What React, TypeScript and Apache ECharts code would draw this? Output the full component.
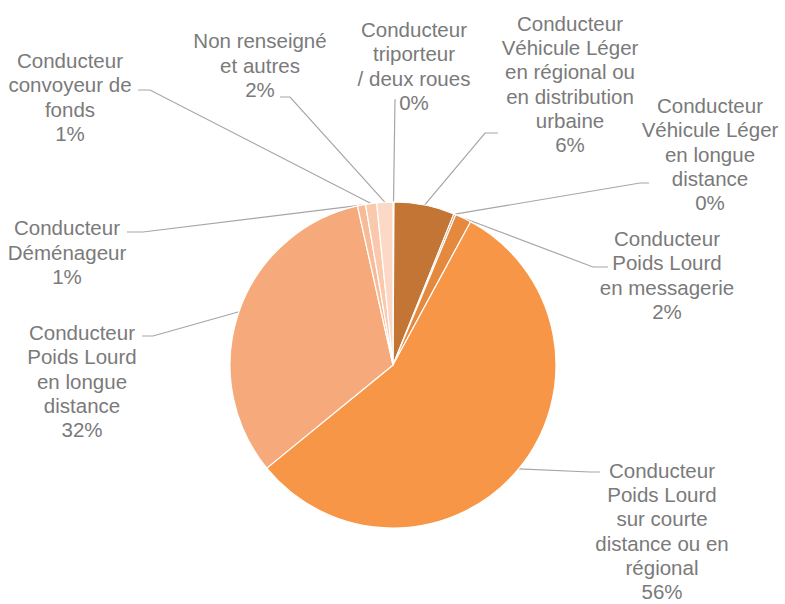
import React, { useEffect, useRef } from "react";
import * as echarts from "echarts";

// Category labels (as wrapped in the reference)
const categories: string[] = [
  "Conducteur\ntriporteur\n/ deux roues",
  "Conducteur\nVéhicule Léger\nen régional ou\nen distribution\nurbaine",
  "Conducteur\nVéhicule Léger\nen longue\ndistance",
  "Conducteur\nPoids Lourd\nen messagerie",
  "Conducteur\nPoids Lourd\nsur courte\ndistance ou en\nrégional",
  "Conducteur\nPoids Lourd\nen longue\ndistance",
  "Conducteur\nDéménageur",
  "Conducteur\nconvoyeur de\nfonds",
  "Non renseigné\net autres",
];

// Shares in percent
const shares: number[] = [0.1, 6.0, 0.2, 1.6, 56.2, 32.4, 0.8, 1.1, 1.6];

// Slice colours
const colors: string[] = [
  "#B8692D",
  "#C27535",
  "#D27D37",
  "#E5893E",
  "#F79646",
  "#F6A97A",
  "#F8BB97",
  "#FAC8AD",
  "#FCD8C6",
];

// Label block centres (layout)
const labelCenters: [number, number][] = [
  [414, 66],
  [570, 84],
  [710, 154],
  [667, 275],
  [662, 531],
  [82, 381],
  [67, 252],
  [70, 97],
  [260, 65],
];

// Leader line elbow / end points (layout)
const leaderPoints: [number, number][][] = [
  [[395, 100], [396, 100]],
  [[485, 133], [498, 133]],
  [[640, 183], [649, 183]],
  [[593, 267], [608, 267]],
  [[590, 472], [600, 472]],
  [[153, 336], [142, 336]],
  [[143, 232], [127, 232]],
  [[150, 90], [138, 90]],
  [[290, 97], [280, 97]],
];

export default function App() {
  const ref = useRef<HTMLDivElement>(null);

  useEffect(() => {
    document.body.style.margin = "0";
    if (!ref.current) return;
    const chart = echarts.init(ref.current, null, { renderer: "svg" });
    const cx = 393;
    const cy = 365;
    const r = 163;
    chart.setOption({
      animation: false,
      backgroundColor: "#ffffff",
      series: [
        {
          type: "pie",
          center: [cx, cy],
          radius: r,
          startAngle: 90,
          clockwise: true,
          avoidLabelOverlap: false,
          data: categories.map((name, i) => ({
            name,
            value: shares[i],
            itemStyle: { color: colors[i] },
          })),
          itemStyle: { borderColor: "#ffffff", borderWidth: 1.2 },
          label: {
            show: true,
            position: "outside",
            formatter: (p: any) => `${p.name}\n${Math.round(p.percent)}%`,
            color: "#7a7a7a",
            fontFamily: "'Liberation Sans', Arial, sans-serif",
            fontSize: 20.5,
            lineHeight: 24.2,
            align: "center",
          },
          labelLine: {
            show: true,
            lineStyle: { color: "#a6a6a6", width: 1.2 },
          },
          labelLayout: (params: any) => {
            const i = params.dataIndex;
            const angle =
              (90 -
                (shares.slice(0, i).reduce((a, b) => a + b, 0) + shares[i] / 2) *
                  3.6) *
              (Math.PI / 180);
            const start = [cx + r * Math.cos(angle), cy - r * Math.sin(angle)];
            return {
              x: labelCenters[i][0],
              y: labelCenters[i][1],
              align: "center",
              verticalAlign: "middle",
              labelLinePoints: [start, leaderPoints[i][0], leaderPoints[i][1]],
            };
          },
        },
      ],
    });
    return () => chart.dispose();
  }, []);

  return <div ref={ref} style={{ width: 785, height: 604 }} />;
}
